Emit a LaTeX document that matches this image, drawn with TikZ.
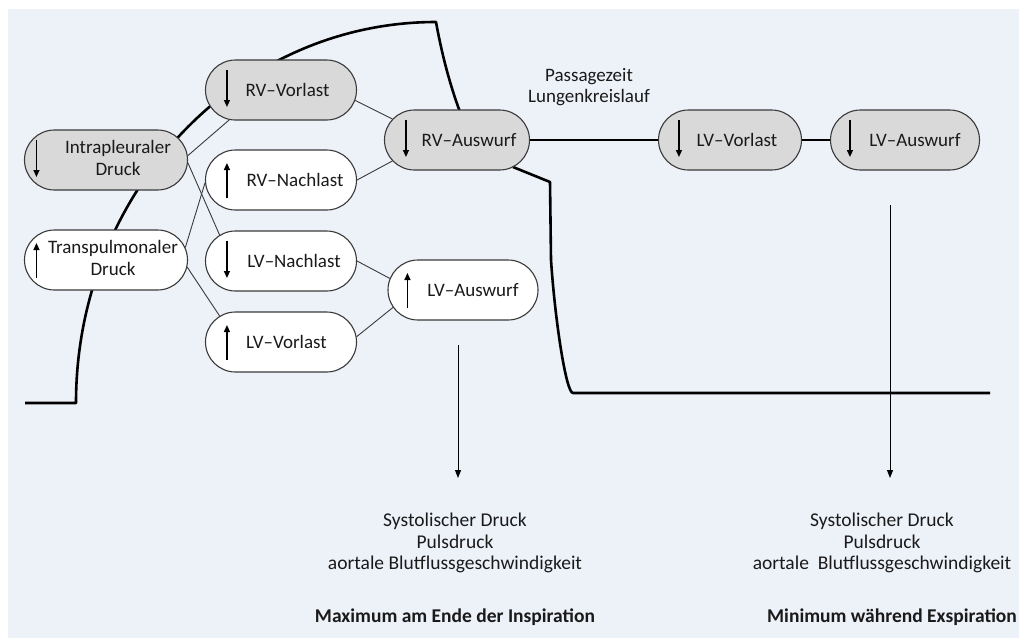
\documentclass[tikz,border=0pt]{standalone}
\usepackage{fontspec}
\setmainfont{Carlito}
\usetikzlibrary{shapes.misc,arrows.meta}
\definecolor{bg}{HTML}{EDF1F8}
\definecolor{boxgray}{HTML}{D9D9D9}
\definecolor{edge}{HTML}{3A3A3A}
\definecolor{ink}{HTML}{1A1A1A}
\newcommand\twolines[2]{\begin{tabular}{@{}c@{}}#1\\#2\end{tabular}}
\newcommand\arrdown[2]{\draw[inarr] ([shift={(#2,20pt)}]#1.west) -- ([shift={(#2,-17pt)}]#1.west);}
\newcommand\arrup[2]{\draw[inarr] ([shift={(#2,-18pt)}]#1.west) -- ([shift={(#2,17pt)}]#1.west);}
\begin{document}
\begin{tikzpicture}[x=1pt,y=-1pt,
  pill/.style={rounded rectangle, draw=edge, line width=1.1pt, minimum height=60pt, inner sep=0pt,
    font=\fontsize{19}{21.5}\selectfont, text=ink},
  gpill/.style={pill, fill=boxgray},
  wpill/.style={pill, fill=white},
  link/.style={draw=edge, line width=0.9pt},
  heavy/.style={line width=2.6pt, draw=black},
  inarr/.style={line width=1.3pt, -{Triangle[length=7pt,width=6pt]}},
  flow/.style={line width=1pt, -{Triangle[length=8pt,width=6pt]}},
  caption/.style={font=\fontsize{19.5}{21.5}\selectfont, align=center, text=ink, inner sep=0pt},
  bcaption/.style={caption, font=\fontsize{19.5}{21.5}\selectfont\bfseries},
]
\useasboundingbox (0,0) rectangle (1019,638);
\fill[white] (0,0) rectangle (1019,638);
\fill[bg] (8,9) rectangle (1019,638);

% big outline curve
\draw[heavy, line join=round] (25,403) -- (76,403) arc[start angle=180, end angle=90, x radius=360pt, y radius=381pt]
  .. controls (442,55) and (450,85) .. (460,112);
\draw[heavy, line join=round] (513,167) -- (550,182) -- (551,260) .. controls (555,320) and (566,393) .. (573,393) -- (990,393);

% nodes
\node[gpill, minimum width=163pt] (ip) at (106,160) {\hspace*{24pt}\twolines{Intrapleuraler}{Druck}};
\node[wpill, minimum width=163pt] (tp) at (106,260) {\hspace*{14pt}\twolines{Transpulmonaler}{Druck}};
\node[gpill, minimum width=151pt] (rvv) at (281,90) {\hspace*{13pt}RV–Vorlast};
\node[wpill, minimum width=151pt] (rvn) at (281,180) {\hspace*{28pt}RV–Nachlast};
\node[wpill, minimum width=151pt] (lvn) at (281,261) {\hspace*{26pt}LV–Nachlast};
\node[wpill, minimum width=151pt] (lvvl) at (281,342) {\hspace*{11pt}LV–Vorlast};
\node[gpill, minimum width=145pt] (rva) at (457,140) {\hspace*{24pt}RV–Auswurf};
\node[wpill, minimum width=150pt] (lval) at (463,290) {\hspace*{20pt}LV–Auswurf};
\node[gpill, minimum width=143pt] (lvvr) at (730,140) {\hspace*{14pt}LV–Vorlast};
\node[gpill, minimum width=149pt] (lvar) at (905,140) {\hspace*{20pt}LV–Auswurf};

% arrows inside nodes
\arrdown{ip}{12.5pt}
\arrup{tp}{12.5pt}
\arrdown{rvv}{22pt}
\arrup{rvn}{22pt}
\arrdown{lvn}{22pt}
\arrup{lvvl}{22pt}
\arrdown{rva}{22pt}
\arrup{lval}{20pt}
\arrdown{lvvr}{21pt}
\arrdown{lvar}{20pt}

% connectors
\draw[link] (ip.3) -- (rvv.210);
\draw[link] (ip.-2) -- (lvn.157);
\draw[link] (tp.9) -- (rvn.182);
\draw[link] (tp.-5) -- (lvvl.157);
\draw[link] (rvv.-8) -- (rva.162);
\draw[link] (rvn.0) -- (rva.198);
\draw[link] (lvn.0) -- (lval.171);
\draw[link] (lvvl.4) -- (lval.194);
\draw[heavy] (rva.east) -- (lvvr.west);
\draw[heavy] (lvvr.east) -- (lvar.west);

% texts
\node[caption, font=\fontsize{19}{21.5}\selectfont] (pass) at (589,87) {Passagezeit\\Lungenkreislauf};
\coordinate (d1s) at (458,345);
\coordinate (d1e) at (458,478);
\coordinate (d2s) at (890,205);
\coordinate (d2e) at (890,478);
\draw[flow] (d1s) -- (d1e);
\draw[flow] (d2s) -- (d2e);
\node[caption] (res1) at (455,543) {Systolischer Druck\\Pulsdruck\\aortale Blutflussgeschwindigkeit};
\node[caption] (res2) at (882,543) {Systolischer Druck\\Pulsdruck\\aortale\ \ Blutflussgeschwindigkeit};
\node[bcaption] (sum1) at (455,617) {Maximum am Ende der Inspiration};
\node[bcaption] (sum2) at (892,617) {Minimum während Exspiration};
\end{tikzpicture}
\end{document}
